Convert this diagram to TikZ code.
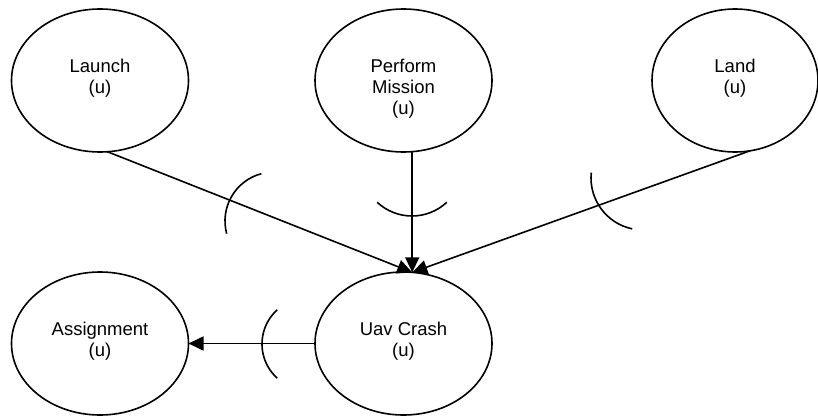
\documentclass[tikz,border=0pt]{standalone}
\usepackage{fontspec}
\setmainfont{Liberation Sans}
\usetikzlibrary{shapes,arrows.meta}
\tikzstyle{state} = [ellipse, draw, line width=1.6pt, minimum width=177pt,
    minimum height=143pt, inner sep=0pt, outer sep=0pt, font=\fontsize{18.5}{21}\selectfont]
\tikzstyle{line} = [draw, line width=1.6pt, -{Triangle[length=15pt,width=14pt]}]
\tikzstyle{cut} = [draw, line width=1.6pt]
\newcommand{\lbl}[1]{\parbox[c][45.4pt][t]{110pt}{\centering\strut#1\strut}}

\begin{document}
\begin{tikzpicture}[x=1pt, y=1pt, node distance=303.5pt]
	\useasboundingbox (0,0) rectangle (818,416);

	\node [state] (mission) at (403.5,335.5) {\lbl{Perform\\Mission\\(u)}};
	\node [state, left of=mission] (launch) {\lbl{Launch\\(u)}};
	\node [state, right of=mission, xshift=28pt, minimum width=166pt] (land) {\lbl{Land\\(u)}};
	\node [state, below of=mission, yshift=40.5pt] (crash) {\lbl{Uav Crash\\(u)}};
	\node [state, left of=crash] (assign) {\lbl{Assignment\\(u)}};

	\path [line] (launch.276) -- (crash.83);
	\path [line] (mission.277) -- (crash.83);
	\path [line] (land.282) -- (crash.83);
	\path [line] (crash.west) -- (assign.east);

	\draw [cut] (274,195) ++(105:49) arc [start angle=105, end angle=195, radius=49];
	\draw [cut] (412,251) ++(227:51) arc [start angle=227, end angle=313, radius=51];
	\draw [cut] (643,238) ++(174:52) arc [start angle=174, end angle=258, radius=52];
	\draw [cut] (308,72) ++(132:46) arc [start angle=132, end angle=228, radius=46];
\end{tikzpicture}
\end{document}
